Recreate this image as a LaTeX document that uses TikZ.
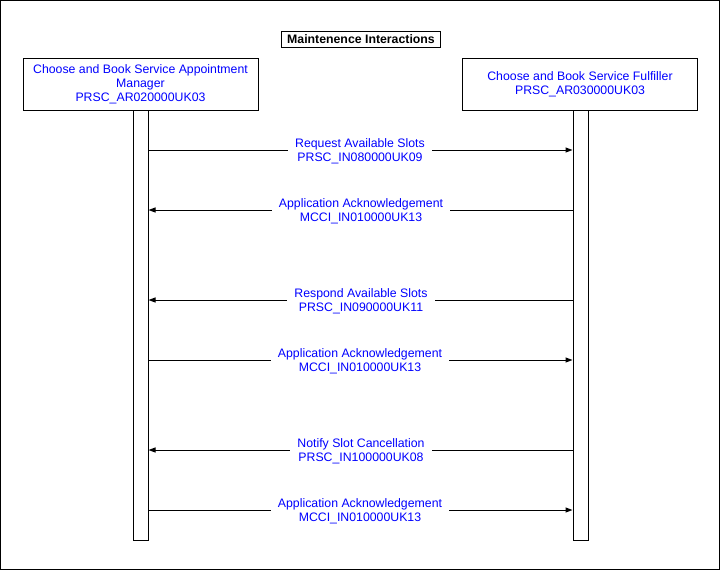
\documentclass[tikz,border=0pt]{standalone}
\usepackage{fontspec}
\setmainfont{Liberation Sans}
\usetikzlibrary{arrows.meta,positioning}
\definecolor{msgblue}{RGB}{0,0,255}

\tikzset{
  head/.style={draw, line width=1pt, fill=white, text=msgblue, align=center,
    minimum width=235pt, minimum height=52pt, font=\fontsize{12.3}{14}\selectfont},
  bar/.style={draw, line width=1pt, fill=white, minimum width=15pt, minimum height=430pt, inner sep=0pt},
  msg/.style={line width=1pt, -{Triangle[length=7pt,width=5pt]}},
  msglabel/.style={fill=white, text=msgblue, align=center, inner xsep=7pt, inner ysep=1pt,
    font=\fontsize{12.3}{14}\selectfont}
}

\begin{document}
\begin{tikzpicture}[x=1pt, y=-1pt]
			% Frame
			\useasboundingbox (0,0) rectangle (720,570);
			\draw[line width=1pt] (0.5,0.5) rectangle (719.5,569.5);
			% Title
			\node[draw, line width=1pt, inner xsep=5.5pt, inner ysep=3pt, font=\bfseries\fontsize{12.3}{14}\selectfont] (title) at (361,39.5) {Maintenence Interactions};
			% Lifelines
			\node[bar] (lbar) at (140.5,325) {};
			\node[bar] (rbar) at (580.5,325) {};
			\node[head] (mgr) at (140.5,84.5) {Choose and Book Service Appointment\\Manager\\PRSC\_AR020000UK03};
			\node[head] (ful) at (580,84.5) {Choose and Book Service Fulfiller\\PRSC\_AR030000UK03};
			% Messages
			\foreach \y/\dir/\ltop/\lbot in {
				150/r/Request Available Slots/PRSC\_IN080000UK09,
				210/l/Application Acknowledgement/MCCI\_IN010000UK13,
				300/l/Respond Available Slots/PRSC\_IN090000UK11,
				360/r/Application Acknowledgement/MCCI\_IN010000UK13,
				450/l/Notify Slot Cancellation/PRSC\_IN100000UK08,
				510/r/Application Acknowledgement/MCCI\_IN010000UK13}
			{
				\coordinate (from) at (lbar.east |- 0,\y);
				\coordinate (to) at (rbar.west |- 0,\y);
				\if r\dir
					\draw[msg] (from) -- (to) node[msglabel, midway, xshift=-0.5pt, yshift=-1pt] (m\y) {\ltop\\\lbot};
				\else
					\draw[msg] (to) -- (from) node[msglabel, midway, xshift=0.5pt, yshift=-1pt] (m\y) {\ltop\\\lbot};
				\fi
			}
		\end{tikzpicture}
\end{document}
